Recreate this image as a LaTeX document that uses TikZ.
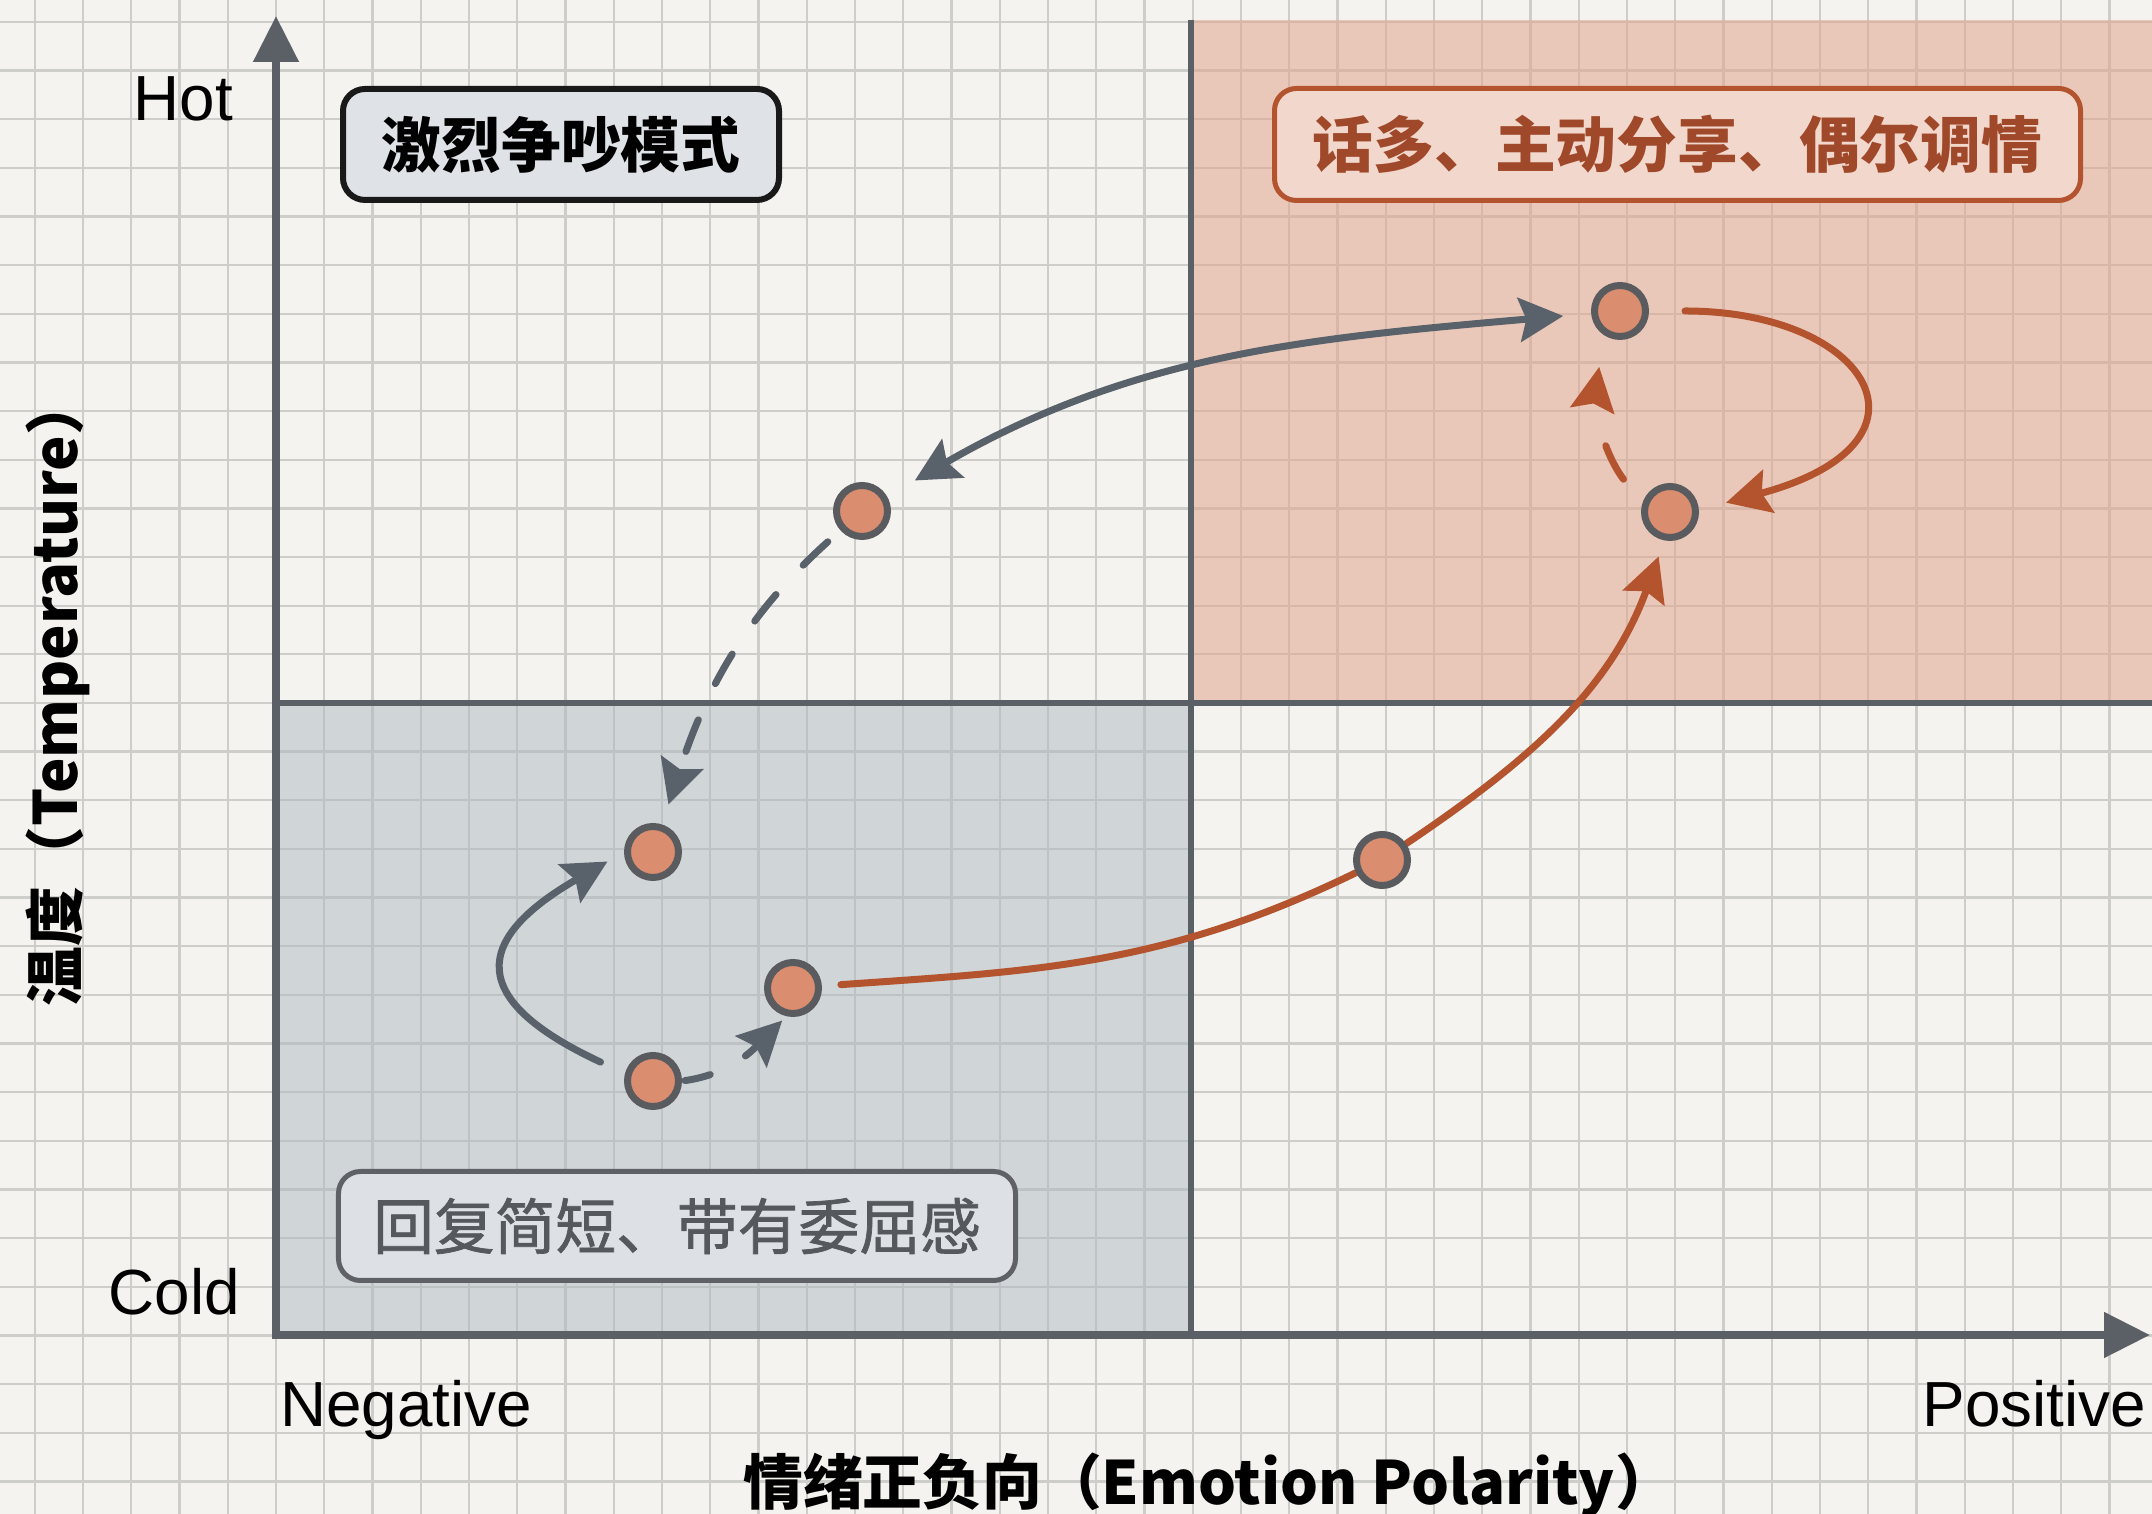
\documentclass[tikz,border=0pt]{standalone}
\usepackage{fontspec}
\setmainfont{Liberation Sans}
\newfontfamily\cjk{Noto Sans CJK SC}
\newfontfamily\cjkmed[FakeBold=1.2]{Noto Sans CJK SC}
\usetikzlibrary{arrows.meta}
\definecolor{bgc}{HTML}{F4F3EF}
\definecolor{gridc}{HTML}{CDCDC9}
\definecolor{pinkq}{HTML}{E3A58E}
\definecolor{greyq}{HTML}{AEB8C2}
\definecolor{axisc}{HTML}{5B6066}
\definecolor{linec}{HTML}{59616A}
\definecolor{orangec}{HTML}{B3542F}
\definecolor{dotfill}{HTML}{DB8D70}
\definecolor{dotedge}{HTML}{5A5B5E}
\definecolor{boxonefill}{HTML}{DFE2E6}
\definecolor{boxtwofill}{HTML}{F2D8CC}
\definecolor{boxtwotext}{HTML}{A0482A}
\definecolor{boxthreefill}{HTML}{DDE1E5}
\definecolor{boxthreeedge}{HTML}{5E6266}
\definecolor{boxthreetext}{HTML}{55595D}
\pgfdeclarelayer{back}
\pgfdeclarelayer{mid}
\pgfsetlayers{back,mid,main}
\tikzset{
  ahd/.tip={Stealth[length=44bp,width=44bp,inset=7bp]},
  axtip/.tip={Triangle[length=46bp,width=44bp]},
  gridline/.style={gridc, line width=2.3bp},
  axisline/.style={axisc, line width=8bp},
  divline/.style={axisc, line width=6bp},
  gline/.style={linec, line width=7bp, line cap=round},
  oline/.style={orangec, line width=7bp, line cap=round},
  dot/.style={circle, draw=dotedge, fill=dotfill, line width=7bp, minimum size=51bp, inner sep=0pt},
  lab/.style={font=\fontsize{64}{70}\selectfont, text=black, inner sep=0pt},
  title/.style={font=\cjk\bfseries\fontsize{60}{66}\selectfont, text=black, inner sep=0pt},
  boxone/.style={rounded corners=22bp, draw=black!90, line width=6bp, fill=boxonefill,
    minimum width=436bp, minimum height=111bp, inner sep=0pt,
    font=\cjk\bfseries\fontsize{60}{66}\selectfont, text=black},
  boxtwo/.style={rounded corners=22bp, draw=orangec, line width=5bp, fill=boxtwofill,
    minimum width=806bp, minimum height=112bp, inner sep=0pt,
    font=\cjk\bfseries\fontsize{61}{66}\selectfont, text=boxtwotext},
  boxthree/.style={rounded corners=22bp, draw=boxthreeedge, line width=5bp, fill=boxthreefill,
    minimum width=677bp, minimum height=109bp, inner sep=0pt,
    font=\cjkmed\fontsize{61}{66}\selectfont, text=boxthreetext},
}
\begin{document}
\begin{tikzpicture}[x=1bp,y=1bp]
\useasboundingbox (0,0) rectangle (2152,1514);
\coordinate (Ox) at (272,179);
\coordinate (Oy) at (276,175);
\coordinate (Ytop) at (276,1498);
\coordinate (Xend) at (2150,179);
\coordinate (Mtop) at (1191,1494);
\coordinate (Mbot) at (1191,179);
\coordinate (Hl) at (276,811);
\coordinate (Hr) at (2152,811);
\begin{pgfonlayer}{back}
  \fill[bgc] (0,0) rectangle (2152,1514);
  \foreach \k in {-5,...,38} \draw[gridline] ({276+48.25*\k},0) -- ({276+48.25*\k},1514);
  \foreach \k in {-16,...,14} \draw[gridline] (0,{811+48.65*\k}) -- (2152,{811+48.65*\k});
  \fill[pinkq, fill opacity=0.55] (1191,811) rectangle (2152,1494);
  \fill[greyq, fill opacity=0.5] (276,179) rectangle (1191,811);
  \draw[divline] (Mtop) -- (Mbot);
  \draw[divline] (Hl) -- (Hr);
  \draw[axisline, -axtip] (Oy) -- (Ytop);
  \draw[axisline, -axtip] (Ox) -- (Xend);
\end{pgfonlayer}

% labels
\node[lab, anchor=base east] (hot) at (233,1393) {Hot};
\node[lab, anchor=base east] (cold) at (240,199) {Cold};
\node[lab, anchor=base west] (neg) at (280,87) {Negative};
\node[lab, anchor=base east] (pos) at (2146,87) {Positive};
\node[title, rotate=90] (ytitle) at (58,823) {温度（Temperature）};
\node[title, anchor=base] (xtitle) at (1209,9) {情绪正负向（Emotion Polarity）};

% boxes
\node[boxone] (b1) at (561,1369.5) {激烈争吵模式};
\node[boxtwo] (b2) at (1677.5,1369.5) {话多、主动分享、偶尔调情};
\node[boxthree] (b3) at (677,288) {回复简短、带有委屈感};

% state dots
\node[dot] (A) at (862,1003) {};
\node[dot] (B) at (653,662) {};
\node[dot] (C) at (793,526) {};
\node[dot] (D) at (653,433) {};
\node[dot] (E) at (1382,654) {};
\node[dot] (F) at (1620,1203) {};
\node[dot] (G) at (1670,1002) {};

\begin{pgfonlayer}{mid}
  \draw[gline, ahd-ahd, shorten <=32bp, shorten >=28bp] (A) to[out=30,in=185] (F);
  \draw[gline, dash pattern=on 34bp off 40bp, -ahd, shorten <=17bp, shorten >=21bp] (A) to[out=222,in=72] (B);
  \draw[gline, -ahd, shorten <=27bp, shorten >=19bp] (D.165) .. controls +(155:175) and +(210:175) .. (B.180);
  \draw[gline, dash pattern=on 26bp off 40bp, -ahd, shorten <=3bp, shorten >=6bp] (D.0) to[out=8,in=225] (C.257);
  \draw[oline, shorten <=19bp] (C) to[out=4,in=206] (E);
  \draw[oline, -ahd, shorten >=17bp] (E) to[out=34,in=250] (G.259);
  \draw[oline, -ahd, shorten <=36bp, shorten >=28bp] (F.0) .. controls +(0:220) and +(15:260) .. (G.4);
  \draw[oline, dash pattern=on 38bp off 52bp, -ahd, shorten <=31bp, shorten >=32bp] (G.164) to[out=127,in=261] (F.237);
\end{pgfonlayer}
\end{tikzpicture}
\end{document}
